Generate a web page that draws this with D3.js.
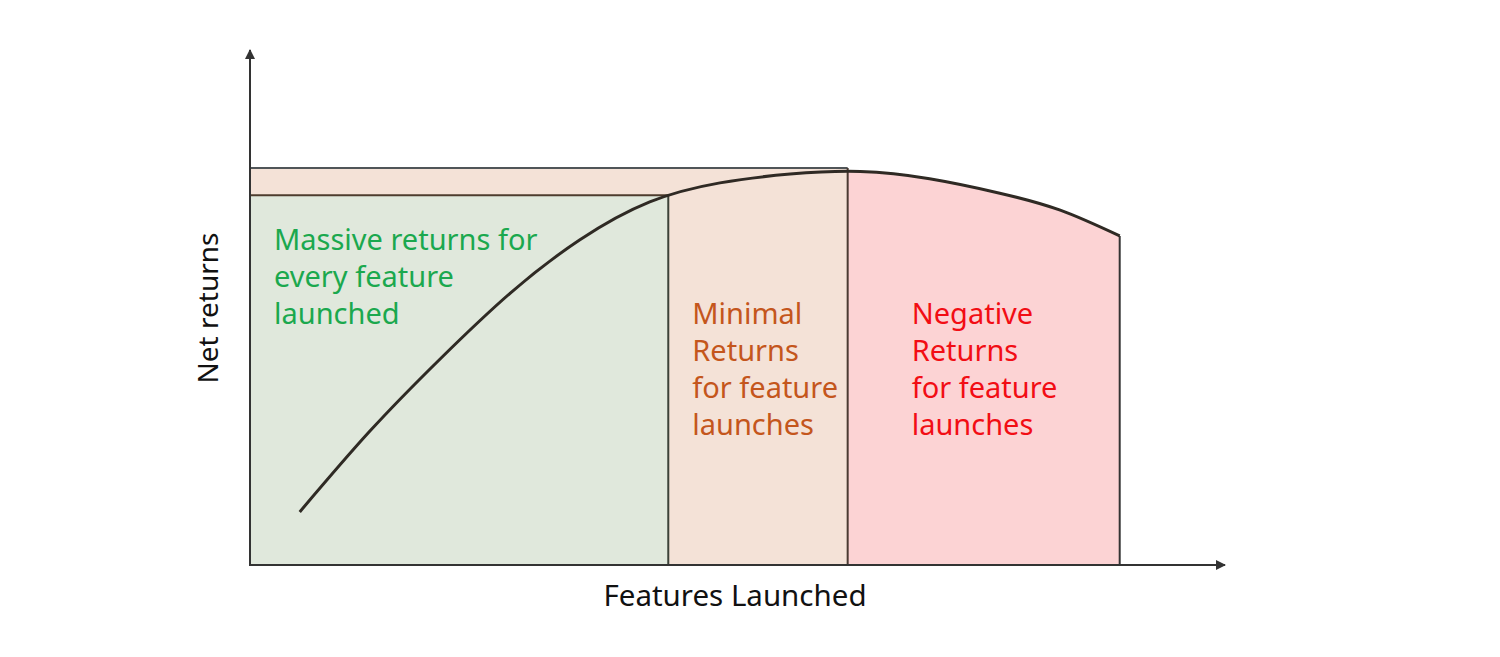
<!DOCTYPE html>
<html>
  <head>
    <meta charset="utf-8">
    <title>Net returns</title>
    <script src="https://d3js.org/d3.v7.min.js"></script>
    <style>
      body { margin: 0; background: #fff; }
      text { font-family: "Noto Sans", Lato, sans-serif; }
    </style>
  </head>
  <body>
    <script>
      // curve (0..100 on both axes), roughly even steps
      const curveX = [5.1, 12.3, 19.5, 26.7, 33.8, 41.0, 48.2, 55.4, 62.6, 69.7, 76.9, 83.1, 89.2];
      const curveY = [10.3, 26.0, 40.0, 52.8, 63.1, 70.5, 74.2, 75.9, 76.4, 75.0, 72.2, 68.9, 63.9];

      // zone edges along x, and the two flat tops
      const zoneEdges = [0, 42.9, 61.3, 89.2];
      const bandTop = 77.1;
      const greenTop = 71.8;

      const zoneLabels = [
        ["Massive returns for", "every feature", "launched"],
        ["Minimal", "Returns", "for feature", "launches"],
        ["Negative", "Returns", "for feature", "launches"]
      ];
      const labelColors = ["#1ba84e", "#c4561c", "#f20d14"];
      const labelTops = [61.2, 46.8, 46.8];

      const width = 1500;
      const height = 657;

      const svg = d3.select("body")
        .append("svg")
          .attr("width", width)
          .attr("height", height);

      const x = d3.scaleLinear().domain([0, 100]).range([250, 1225]);
      const y = d3.scaleLinear().domain([0, 100]).range([565, 50]);

      const pts = curveX.map(function(d, i) { return [d, curveY[i]]; });

      const line = d3.line()
        .x(function(d) { return x(d[0]); })
        .y(function(d) { return y(d[1]); })
        .curve(d3.curveNatural);

      const area = d3.area()
        .x(function(d) { return x(d[0]); })
        .y0(y(0))
        .y1(function(d) { return y(d[1]); })
        .curve(d3.curveNatural);

      // peach band + middle zone
      svg.append("rect")
        .attr("x", x(0)).attr("y", y(bandTop))
        .attr("width", x(zoneEdges[2]) - x(0))
        .attr("height", y(0) - y(bandTop))
        .attr("fill", "#f4e2d7");

      // red zone under the curve
      svg.append("clipPath").attr("id", "redclip")
        .append("rect")
          .attr("x", x(zoneEdges[2])).attr("y", 0)
          .attr("width", x(zoneEdges[3]) - x(zoneEdges[2]))
          .attr("height", height);

      svg.append("path")
        .attr("d", area(pts))
        .attr("fill", "#fcd3d4")
        .attr("clip-path", "url(#redclip)");

      // green zone
      svg.append("rect")
        .attr("x", x(0)).attr("y", y(greenTop))
        .attr("width", x(zoneEdges[1]) - x(0))
        .attr("height", y(0) - y(greenTop))
        .attr("fill", "#e0e8dc");

      // borders
      svg.append("line")
        .attr("x1", x(0)).attr("x2", x(zoneEdges[2]))
        .attr("y1", y(bandTop)).attr("y2", y(bandTop))
        .attr("stroke", "#505558").attr("stroke-width", 2);

      svg.append("line")
        .attr("x1", x(0)).attr("x2", x(zoneEdges[1]))
        .attr("y1", y(greenTop)).attr("y2", y(greenTop))
        .attr("stroke", "#4e3c2e").attr("stroke-width", 2);

      svg.append("line")
        .attr("x1", x(zoneEdges[1])).attr("x2", x(zoneEdges[1]))
        .attr("y1", y(greenTop)).attr("y2", y(0))
        .attr("stroke", "#3c4238").attr("stroke-width", 2);

      svg.append("line")
        .attr("x1", x(zoneEdges[2])).attr("x2", x(zoneEdges[2]))
        .attr("y1", y(bandTop)).attr("y2", y(0))
        .attr("stroke", "#4a3a32").attr("stroke-width", 2);

      svg.append("line")
        .attr("x1", x(zoneEdges[3])).attr("x2", x(zoneEdges[3]))
        .attr("y1", y(curveY[curveY.length - 1])).attr("y2", y(0))
        .attr("stroke", "#333").attr("stroke-width", 2);

      // the curve
      svg.append("path")
        .attr("d", line(pts))
        .attr("fill", "none")
        .attr("stroke", "#2f2a24")
        .attr("stroke-width", 3);

      // axes with arrow heads
      const defs = svg.append("defs");
      defs.append("marker")
        .attr("id", "arrow")
        .attr("viewBox", "0 0 10 10")
        .attr("refX", 9).attr("refY", 5)
        .attr("markerWidth", 5).attr("markerHeight", 5)
        .attr("markerUnits", "strokeWidth")
        .attr("orient", "auto")
        .append("path")
          .attr("d", "M0,0L10,5L0,10Z")
          .attr("fill", "#333");

      svg.append("line")
        .attr("x1", x(0)).attr("x2", x(0))
        .attr("y1", y(0) + 1).attr("y2", y(100))
        .attr("stroke", "#333").attr("stroke-width", 2)
        .attr("marker-end", "url(#arrow)");

      svg.append("line")
        .attr("x1", x(0) - 1).attr("x2", x(100))
        .attr("y1", y(0)).attr("y2", y(0))
        .attr("stroke", "#333").attr("stroke-width", 2)
        .attr("marker-end", "url(#arrow)");

      // zone labels
      zoneLabels.forEach(function(lines, i) {
        const lx = x(zoneEdges[i]) + (i === 2 ? 64 : 24);
        const t = svg.append("text")
          .attr("x", lx)
          .attr("y", y(labelTops[i]))
          .attr("fill", labelColors[i])
          .attr("font-size", 29);
        lines.forEach(function(s, j) {
          t.append("tspan")
            .attr("x", lx)
            .attr("dy", j === 0 ? 0 : 37)
            .text(s);
        });
      });

      // axis titles
      svg.append("text")
        .attr("x", 735).attr("y", 606)
        .attr("text-anchor", "middle")
        .attr("font-size", 29.5)
        .attr("fill", "#111")
        .text("Features Launched");

      svg.append("text")
        .attr("transform", "translate(218,308) rotate(-90)")
        .attr("text-anchor", "middle")
        .attr("font-size", 28)
        .attr("fill", "#111")
        .text("Net returns");
    </script>
  </body>
</html>
